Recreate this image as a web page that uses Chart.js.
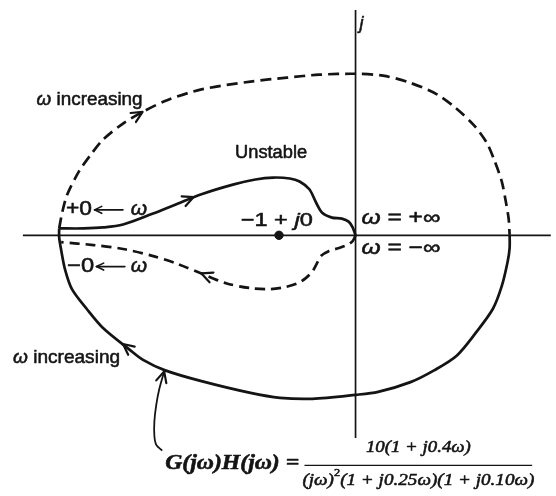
<!DOCTYPE html>
<html>
<head>
<meta charset="utf-8">
<script src="https://cdn.jsdelivr.net/npm/chart.js@4.4.1/dist/chart.umd.min.js"></script>
<style>
  html, body { margin: 0; padding: 0; background: #fff; }
  canvas { display: block; }
</style>
</head>
<body>
<canvas id="nyquist" width="556" height="496"></canvas>
<script>
// Nyquist locus of G(jw)H(jw); x = real part, y = imaginary part, -1 + j0 at (-1, 0)

// w from 0+ up to +inf (solid)
const branchPositive = [
  [-3.872, 0.090], [-3.551, 0.090], [-3.295, 0.103], [-3.038, 0.141], [-2.654, 0.282],
  [-2.333, 0.410], [-2.013, 0.538], [-1.590, 0.667], [-1.308, 0.731], [-1.077, 0.756],
  [-0.859, 0.744], [-0.731, 0.705], [-0.603, 0.603], [-0.513, 0.423], [-0.436, 0.295],
  [-0.308, 0.231], [-0.179, 0.218], [-0.090, 0.179], [-0.038, 0.103], [0, 0]
];

// w from -inf up to 0- (dashed)
const branchNegative = [
  [0, 0], [-0.038, -0.077], [-0.115, -0.128], [-0.218, -0.167], [-0.346, -0.205],
  [-0.449, -0.269], [-0.500, -0.359], [-0.564, -0.474], [-0.654, -0.564], [-0.756, -0.628],
  [-0.923, -0.679], [-1.115, -0.705], [-1.372, -0.692], [-1.692, -0.628], [-2.013, -0.500],
  [-2.333, -0.372], [-2.654, -0.269], [-3.038, -0.179], [-3.423, -0.128], [-3.846, -0.090]
];

// closing contour at infinity, upper half (dashed)
const arcUpper = [
  [-3.872, 0.090], [-3.833, 0.295], [-3.769, 0.526], [-3.615, 0.833], [-3.462, 1.051],
  [-3.295, 1.256], [-3.038, 1.462], [-2.782, 1.615], [-2.462, 1.769], [-2.013, 1.910],
  [-1.372, 2.013], [-0.897, 2.064], [-0.474, 2.103], [0, 2.115], [0.359, 2.090],
  [0.705, 2.000], [1.064, 1.846], [1.308, 1.667], [1.551, 1.436], [1.718, 1.205],
  [1.821, 0.962], [1.910, 0.705], [1.962, 0.449], [2.000, 0.218], [2.013, 0.013]
];

// closing contour at infinity, lower half (solid)
const arcLower = [
  [2.013, 0.013], [2.013, -0.167], [1.987, -0.346], [1.910, -0.667], [1.795, -0.962],
  [1.577, -1.269], [1.321, -1.577], [1.026, -1.769], [0.718, -1.923], [0.295, -2.051],
  [0, -2.090], [-0.564, -2.141], [-0.987, -2.128], [-1.372, -2.064], [-2.013, -1.910],
  [-2.487, -1.769], [-2.782, -1.628], [-2.949, -1.500], [-3.295, -1.218], [-3.513, -0.962],
  [-3.705, -0.705], [-3.795, -0.449], [-3.846, -0.192], [-3.872, -0.026], [-3.872, 0.090]
];

const realAxis = [[-4.346, 0], [2.560, 0]];
const imagAxis = [[0, 2.949], [0, -2.654]];
const criticalPoint = [[-1, 0]];
const leaderLine = [
  [-2.526, -2.821], [-2.603, -2.744], [-2.628, -2.628], [-2.628, -2.436],
  [-2.603, -2.218], [-2.564, -2.013], [-2.500, -1.782]
];
const fractionBar = [[-0.667, -3.013], [2.308, -3.013]];

// direction arrows: tip and a point behind it
const curveArrows = [
  { tip: [-2.782, 1.615], from: [-3.038, 1.462] },
  { tip: [-2.115, 0.500], from: [-2.462, 0.359] },
  { tip: [-2.013, -0.500], from: [-1.692, -0.628] },
  { tip: [-3.038, -1.423], from: [-2.782, -1.628] },
  { tip: [-2.500, -1.782], from: [-2.564, -2.013] }
];
const textArrows = [
  { tip: [-3.410, 0.333], from: [-3.038, 0.333] },
  { tip: [-3.385, -0.410], from: [-3.013, -0.410] }
];

const INK = '#141414';
const SANS = '"Liberation Sans", Arial, sans-serif';
const SERIF = '"Liberation Serif", "Times New Roman", serif';

// parts: [text, style]  r = regular, i = italic, b = bold, s = superscript
const labels = [
  { at: [-4.167, 1.769], align: 'left', size: 19, family: SANS, width: 106, parts: [['ω', 'i'], [' increasing', 'r']] },
  { at: [-4.474, -1.603], align: 'left', size: 19, family: SANS, width: 107, parts: [['ω', 'i'], [' increasing', 'r']] },
  { at: [-1.103, 1.077], align: 'center', size: 18, family: SANS, width: 72, parts: [['Unstable', 'r']] },
  { at: [-3.782, 0.346], align: 'left', size: 21, family: SANS, width: 26, parts: [['+0', 'r']] },
  { at: [-2.936, 0.346], align: 'left', size: 21, family: SANS, parts: [['ω', 'i']] },
  { at: [-3.769, -0.410], align: 'left', size: 21, family: SANS, width: 27, parts: [['−0', 'r']] },
  { at: [-2.936, -0.410], align: 'left', size: 21, family: SANS, parts: [['ω', 'i']] },
  { at: [-1.500, 0.192], align: 'left', size: 19, family: SANS, width: 72, parts: [['−1 + ', 'r'], ['j', 'i'], ['0', 'r']] },
  { at: [0.077, 0.218], align: 'left', size: 20, family: SANS, width: 79, parts: [['ω', 'i'], [' = +∞', 'r']] },
  { at: [0.077, -0.167], align: 'left', size: 20, family: SANS, width: 79, parts: [['ω', 'i'], [' = −∞', 'r']] },
  { at: [0.051, 2.769], align: 'left', size: 18, family: SANS, parts: [['j', 'i']] },
  { at: [-2.487, -2.987], align: 'left', size: 20, family: SERIF, width: 134, parts: [['G(jω)H(jω) =', 'ib']] },
  { at: [0.821, -2.782], align: 'center', size: 17, family: SERIF, width: 105, parts: [['10(1 + ', 'i'], ['j', 'i'], ['0.4ω)', 'i']] },
  { at: [0.821, -3.205], align: 'center', size: 17, family: SERIF, width: 232,
    parts: [['(jω)', 'i'], ['2', 's'], ['(1 + j0.25ω)(1 + j0.10ω)', 'i']] }
];

function fontFor(style, size, family) {
  const italic = style.includes('i') ? 'italic ' : '';
  const bold = style.includes('b') ? 'bold ' : '';
  const s = style.includes('s') ? Math.round(size * 0.65) : size;
  return italic + bold + s + 'px ' + family;
}

function drawParts(ctx, label, p) {
  const widths = label.parts.map(([t, st]) => {
    ctx.font = fontFor(st, label.size, label.family);
    return ctx.measureText(t).width;
  });
  const total = widths.reduce((a, b) => a + b, 0);
  const sx = label.width ? label.width / total : 1;
  const drawn = total * sx;
  let x0 = p[0];
  if (label.align === 'center') x0 -= drawn / 2;
  ctx.save();
  ctx.translate(x0, p[1]);
  ctx.scale(sx, 1);
  ctx.textBaseline = 'middle';
  ctx.textAlign = 'left';
  ctx.lineWidth = 0.55;
  let cx = 0;
  label.parts.forEach(([t, st], i) => {
    ctx.font = fontFor(st, label.size, label.family);
    const dy = st.includes('s') ? -label.size * 0.38 : 0;
    ctx.fillText(t, cx, dy);
    ctx.strokeText(t, cx, dy); // scanned print is a bit heavier than the screen face
    cx += widths[i];
  });
  ctx.restore();
}

function arrowHead(ctx, from, tip, len, lw) {
  const a = Math.atan2(tip[1] - from[1], tip[0] - from[0]);
  const spread = 0.45;
  ctx.lineWidth = lw;
  ctx.beginPath();
  ctx.moveTo(tip[0] - len * Math.cos(a - spread), tip[1] - len * Math.sin(a - spread));
  ctx.lineTo(tip[0], tip[1]);
  ctx.lineTo(tip[0] - len * Math.cos(a + spread), tip[1] - len * Math.sin(a + spread));
  ctx.stroke();
}

const annotations = {
  id: 'annotations',
  afterDatasetsDraw(chart) {
    const { ctx, scales: { x, y } } = chart;
    const px = p => [x.getPixelForValue(p[0]), y.getPixelForValue(p[1])];
    ctx.save();
    ctx.strokeStyle = INK;
    ctx.fillStyle = INK;
    ctx.lineCap = 'round';
    ctx.lineJoin = 'round';
    curveArrows.forEach(a => arrowHead(ctx, px(a.from), px(a.tip), 12, 2.2));
    textArrows.forEach(a => {
      const f = px(a.from), t = px(a.tip);
      ctx.lineWidth = 1.6;
      ctx.beginPath();
      ctx.moveTo(f[0], f[1]);
      ctx.lineTo(t[0], t[1]);
      ctx.stroke();
      arrowHead(ctx, f, t, 8, 1.6);
    });
    labels.forEach(l => drawParts(ctx, l, px(l.at)));
    ctx.restore();
  }
};

const toPoints = arr => arr.map(([re, im]) => ({ x: re, y: im }));

function curve(data, opts) {
  return Object.assign({
    data: toPoints(data),
    showLine: true,
    pointRadius: 0,
    borderColor: INK,
    borderWidth: 2.7,
    tension: 0.3,
    fill: false
  }, opts);
}

new Chart(document.getElementById('nyquist').getContext('2d'), {
  type: 'scatter',
  data: {
    datasets: [
      curve(realAxis, { borderWidth: 1.7, tension: 0 }),
      curve(imagAxis, { borderWidth: 1.7, tension: 0 }),
      curve(branchPositive, {}),
      curve(branchNegative, { borderDash: [10, 6] }),
      curve(arcUpper, { borderDash: [11, 6] }),
      curve(arcLower, {}),
      curve(leaderLine, { borderWidth: 1.8 }),
      curve(fractionBar, { borderWidth: 1.3, tension: 0 }),
      {
        data: toPoints(criticalPoint),
        showLine: false,
        pointRadius: 4.2,
        pointBackgroundColor: INK,
        pointBorderColor: INK
      }
    ]
  },
  options: {
    responsive: false,
    animation: false,
    devicePixelRatio: 1,
    layout: { padding: 0 },
    plugins: { legend: { display: false }, tooltip: { enabled: false } },
    scales: {
      x: { type: 'linear', min: -4.577, max: 2.551, display: false },
      y: { type: 'linear', min: -3.346, max: 3.013, display: false }
    }
  },
  plugins: [annotations]
});
</script>
</body>
</html>
